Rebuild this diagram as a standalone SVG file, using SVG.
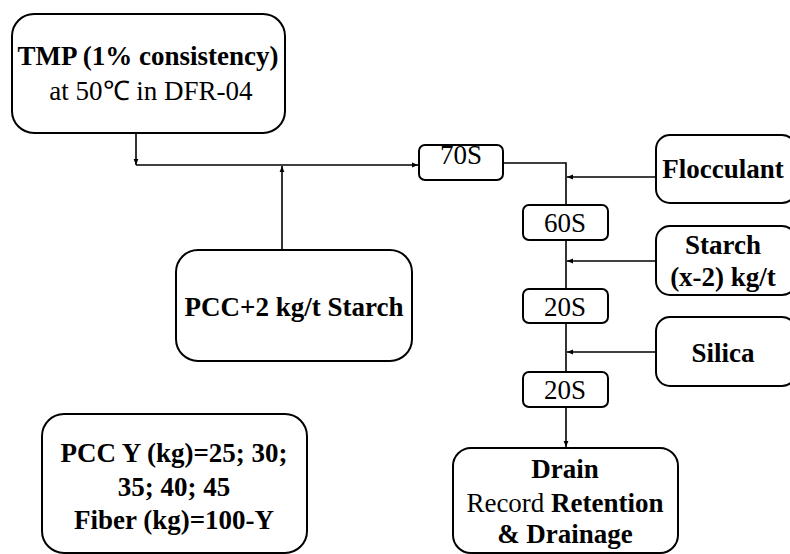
<svg xmlns="http://www.w3.org/2000/svg" width="790" height="554" viewBox="0 0 790 554">
<style>
.box{fill:#fff;stroke:#000;stroke-width:2}
.b{font-weight:bold}
.c{fill:none;stroke:#000;stroke-width:1.6}
</style>
<defs>
<marker id="ah" viewBox="0 0 10 10" refX="10" refY="5" markerWidth="6" markerHeight="6" orient="auto" markerUnits="userSpaceOnUse">
<path d="M0,1 L10,5 L0,9 Z" fill="#000"/>
</marker>
</defs>
<g id="connectors">
<line class="c" x1="136" y1="133" x2="136" y2="165" marker-end="url(#ah)"/>
<line class="c" x1="136" y1="165" x2="418" y2="165" marker-end="url(#ah)"/>
<line class="c" x1="282" y1="250" x2="282" y2="166" marker-end="url(#ah)"/>
<polyline class="c" points="503,163 566,163 566,205"/>
<line class="c" x1="656" y1="177" x2="567" y2="177" marker-end="url(#ah)"/>
<line class="c" x1="566" y1="240" x2="566" y2="289"/>
<line class="c" x1="656" y1="261" x2="567" y2="261" marker-end="url(#ah)"/>
<line class="c" x1="566" y1="323" x2="566" y2="372"/>
<line class="c" x1="656" y1="352" x2="567" y2="352" marker-end="url(#ah)"/>
<line class="c" x1="566" y1="407" x2="566" y2="447" marker-end="url(#ah)"/>
</g>
<g font-family="Liberation Serif, serif" font-size="27" text-anchor="middle" fill="#000">
<g id="tmp">
<rect class="box" x="12" y="14" width="273" height="119" rx="22"/>
<text class="b" x="148" y="65">TMP (1% consistency)</text>
<text x="151" y="100">at 50℃ in DFR-04</text>
</g>
<g id="pcc-starch">
<rect class="box" x="176" y="250" width="236" height="111" rx="22"/>
<text class="b" x="294" y="316">PCC+2 kg/t Starch</text>
</g>
<g id="pcc-y">
<rect class="box" x="42" y="414" width="265" height="139" rx="22"/>
<text class="b" x="174" y="462">PCC Y (kg)=25; 30;</text>
<text class="b" x="174" y="496">35; 40; 45</text>
<text class="b" x="174" y="529">Fiber (kg)=100-Y</text>
</g>
<g id="t70">
<rect class="box" x="419" y="145" width="84" height="35" rx="6"/>
<text x="461" y="164">70S</text>
</g>
<g id="t60">
<rect class="box" x="523" y="205" width="85" height="35" rx="6"/>
<text x="565" y="232">60S</text>
</g>
<g id="t20a">
<rect class="box" x="523" y="289" width="85" height="34" rx="6"/>
<text x="565" y="316">20S</text>
</g>
<g id="t20b">
<rect class="box" x="523" y="372" width="85" height="35" rx="6"/>
<text x="565" y="399">20S</text>
</g>
<g id="flocculant">
<rect class="box" x="656" y="135" width="140" height="68" rx="14"/>
<text class="b" x="723" y="178">Flocculant</text>
</g>
<g id="starch">
<rect class="box" x="656" y="226" width="140" height="69" rx="14"/>
<text class="b" x="723" y="254">Starch</text>
<text class="b" x="723" y="286">(x-2) kg/t</text>
</g>
<g id="silica">
<rect class="box" x="656" y="317" width="140" height="69" rx="14"/>
<text class="b" x="723" y="362">Silica</text>
</g>
<g id="drain">
<rect class="box" x="453" y="448" width="225" height="105" rx="18"/>
<text class="b" x="565" y="478">Drain</text>
<text x="565" y="512">Record <tspan class="b">Retention</tspan></text>
<text class="b" x="565" y="543">&amp; Drainage</text>
</g>
</g>
</svg>
